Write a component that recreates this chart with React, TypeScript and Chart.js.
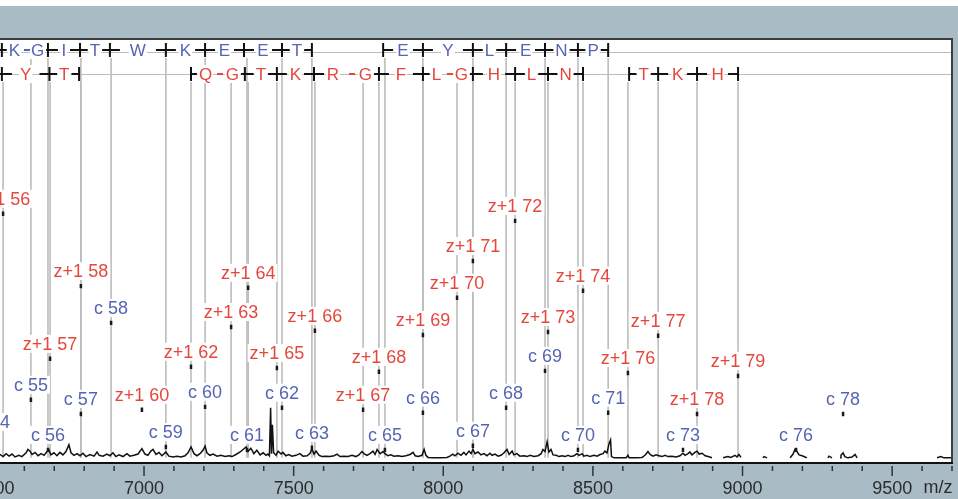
import React, { useEffect, useRef } from "react";
import { Chart, registerables } from "chart.js";

Chart.register(...registerables);

// ---------- axis ----------
const majorTicks = [6500, 7000, 7500, 8000, 8500, 9000, 9500];
const xRange = [6500, 9700];
const yRange = [-1, 100];
const axisTitle = "m/z";

// ---------- spectrum trace ----------
const spectrumMz = [
  6500, 6519, 6529, 6539, 6549, 6559, 6569, 6582, 6592, 6606,
  6612, 6619, 6626, 6636, 6646, 6656, 6666, 6676, 6682, 6689,
  6699, 6709, 6719, 6729, 6739, 6749, 6756, 6766, 6776, 6786,
  6796, 6806, 6819, 6833, 6843, 6850, 6863, 6876, 6886, 6896,
  6906, 6916, 6930, 6943, 6953, 6966, 6980, 6993, 7003, 7013,
  7023, 7030, 7040, 7050, 7060, 7073, 7083, 7097, 7110, 7124,
  7137, 7147, 7157, 7167, 7177, 7187, 7197, 7204, 7210, 7220,
  7231, 7244, 7257, 7271, 7284, 7294, 7307, 7321, 7331, 7341,
  7347, 7357, 7367, 7377, 7388, 7398, 7408, 7414, 7419, 7423,
  7426, 7429, 7433, 7441, 7448, 7458, 7464, 7474, 7484, 7494,
  7508, 7521, 7531, 7545, 7555, 7561, 7568, 7575, 7585, 7595,
  7608, 7621, 7635, 7645, 7655, 7668, 7682, 7695, 7708, 7718,
  7728, 7735, 7745, 7755, 7765, 7772, 7779, 7789, 7799, 7805,
  7815, 7825, 7835, 7849, 7862, 7875, 7889, 7899, 7906, 7916,
  7929, 7936, 7942, 7949, 7966, 7989, 8012, 8022, 8032, 8039,
  8049, 8059, 8069, 8076, 8086, 8093, 8099, 8106, 8116, 8126,
  8136, 8146, 8156, 8163, 8173, 8183, 8193, 8203, 8213, 8220,
  8230, 8236, 8246, 8256, 8270, 8280, 8290, 8303, 8317, 8327,
  8333, 8340, 8347, 8353, 8360, 8367, 8377, 8387, 8397, 8407,
  8417, 8427, 8437, 8447, 8454, 8464, 8470, 8480, 8490, 8504,
  8514, 8524, 8534, 8540, 8547, 8554, 8559, 8562, 8571, 8591,
  8611, 8617, 8621, 8644, 8664, 8674, 8684, 8691, 8701, 8711,
  8721, 8731, 8741, 8751, 8764, 8778, 8791, 8801, 8808, 8818,
  8824, 8831, 8841, 8848, 8855, 8865, 8875, 8885, 8898, 8911,
  8935, 8951, 8961, 8975, 8981, 8988, 8995, 9030, 9068, 9072,
  9082, 9120, 9159, 9169, 9175, 9182, 9189, 9199, 9209, 9215,
  9250, 9285, 9289, 9299, 9312, 9326, 9329, 9336, 9342, 9352,
  9366, 9376, 9383, 9500, 9650, 9663, 9673, 9700,
];
const spectrumInt: (number | null)[] = [
  0.3, 0.8, 0.3, 1.0, 0.4, 0.9, 0.2, 0.6, 0.3, 1.2,
  2.0, 1.6, 0.8, 1.3, 0.5, 1.0, 0.6, 1.5, 1.9, 0.7,
  1.2, 0.5, 1.3, 0.7, 1.5, 3.1, 1.2, 0.6, 1.0, 0.5,
  1.1, 0.3, 0.8, 0.4, 1.4, 0.6, 0.4, 0.9, 0.5, 1.2,
  0.3, 0.7, 0.3, 1.0, 0.4, 0.6, 0.9, 2.2, 0.9, 0.6,
  1.6, 2.0, 0.8, 1.3, 0.5, 1.4, 0.4, 0.2, 0.4, 0.2,
  0.5, 1.2, 2.6, 1.0, 0.5, 1.0, 1.8, 2.8, 1.2, 0.6,
  0.9, 0.4, 0.6, 0.3, 0.5, 0.3, 0.8, 1.4, 2.0, 2.6,
  1.5, 2.3, 1.0, 1.8, 0.7, 1.2, 0.6, 0.9, 0.5, 12.0,
  1.0, 7.9, 1.2, 0.6, 1.6, 0.9, 1.3, 0.5, 0.8, 0.4,
  0.6, 1.0, 0.4, 0.5, 1.1, 2.2, 0.9, 1.6, 0.6, 0.3,
  0.4, 0.3, 0.5, 0.9, 0.3, 0.4, 0.3, 0.6, 0.3, 0.7,
  1.5, 1.0, 0.6, 1.0, 1.6, 0.8, 2.0, 1.0, 1.5, 1.0,
  0.5, 0.7, 0.4, 0.5, 0.3, 0.5, 0.8, 1.3, 0.5, 0.3,
  0.6, 2.0, 0.6, 0.1, 0.0, 0.0, 0.1, 0.4, 0.9, 0.5,
  1.1, 0.6, 1.3, 0.7, 1.6, 1.0, 2.0, 1.0, 1.4, 0.7,
  1.0, 0.5, 1.1, 0.6, 0.9, 0.4, 0.6, 1.2, 2.0, 0.8,
  1.6, 0.7, 1.0, 0.4, 0.5, 0.3, 0.6, 0.3, 0.5, 1.0,
  2.0, 1.5, 3.8, 1.4, 2.0, 0.7, 0.6, 0.3, 0.5, 0.3,
  0.6, 0.3, 0.5, 1.0, 0.6, 1.0, 0.4, 0.6, 0.3, 0.6,
  0.4, 0.8, 1.0, 1.6, 1.2, 3.4, 4.3, 0.3, 0.0, 0.0,
  0.0, 0.6, 0.0, 0.0, 0.1, 0.6, 1.5, 0.8, 0.4, 0.7,
  0.5, 0.3, 0.6, 0.3, 0.4, 0.2, 0.5, 1.1, 0.6, 1.0,
  1.4, 0.7, 1.3, 1.6, 0.9, 1.1, 0.5, 0.3, 0.0, null,
  0.0, 0.3, 0.1, 0.6, 0.2, 0.8, 0.1, null, 0.0, 0.3,
  0.0, null, 0.0, 0.9, 2.0, 1.5, 0.7, 0.5, 0.2, 0.0,
  null, 0.0, 0.4, 0.0, null, 0.0, 0.6, 1.2, 0.3, 0.0,
  0.2, 0.8, 0.0, null, 0.0, 0.3, 0.0, 0.0,
];

// ---------- c ions (blue) ----------
const cIonLabels = [
  "c 54", "c 55", "c 56", "c 57", "c 58", "c 59", "c 60", "c 61", "c 62", "c 63",
  "c 65", "c 66", "c 67", "c 68", "c 69", "c 70", "c 71", "c 73", "c 76", "c 78",
];
const cIonMz = [
  6495, 6622, 6679, 6789, 6890, 7073, 7204, 7344, 7461, 7561,
  7805, 7932, 8099, 8210, 8340, 8450, 8551, 8801, 9179, 9336,
];
const cIonHeight = [
  5.0, 13.9, 1.9, 10.5, 32.3, 2.6, 12.2, 1.9, 12.0, 2.4,
  1.9, 10.8, 2.9, 12.0, 20.8, 1.9, 10.8, 1.9, 1.9, 10.5,
];
const cIonMapped = [
  true, true, true, true, true, true, true, true, true, true,
  true, true, true, true, true, true, true, false, false, false,
];

// ---------- z+1 ions (red) ----------
const zIonLabels = [
  "z+1 56", "z+1 57", "z+1 58", "z+1 60", "z+1 62", "z+1 63", "z+1 64", "z+1 65",
  "z+1 66", "z+1 67", "z+1 68", "z+1 69", "z+1 70", "z+1 71", "z+1 72", "z+1 73",
  "z+1 74", "z+1 76", "z+1 77", "z+1 78", "z+1 79",
];
const zIonMz = [
  6529, 6686, 6789, 6993, 7157, 7291, 7348, 7444, 7571, 7732, 7785,
  7932, 8046, 8099, 8240, 8350, 8467, 8617, 8718, 8848, 8985,
];
const zIonHeight = [
  58.4, 23.7, 41.1, 11.5, 21.8, 31.3, 40.7, 21.5, 30.4, 11.5, 20.6,
  29.4, 38.3, 47.1, 56.7, 30.1, 40.0, 20.3, 29.2, 10.5, 19.6,
];
const zIonMapped = [
  true, true, true, false, true, true, true, true, true, true, true,
  true, true, true, true, true, true, true, true, true, true,
];

// ---------- sequence map rows ----------
// kinds: x = cleavage cross, s = segment start, e = segment end, d = no cleavage (dash)
const cSeq1Letters = ["K", "G", "I", "T", "W", "K", "E", "E", "T"];
const cSeq1Breaks = [6525, 6609, 6679, 6786, 6886, 7073, 7204, 7334, 7461, 7561];
const cSeq1Kinds = ["x", "d", "x", "x", "x", "x", "x", "x", "x", "e"];
const cSeq2Letters = ["E", "Y", "L", "E", "N", "P"];
const cSeq2Breaks = [7799, 7932, 8099, 8210, 8340, 8450, 8551];
const cSeq2Kinds = ["s", "x", "x", "x", "x", "x", "e"];

const zSeq1Letters = ["Y", "T"];
const zSeq1Breaks = [6525, 6684, 6783];
const zSeq1Kinds = ["x", "x", "e"];
const zSeq2Letters = ["Q", "G", "T", "K", "R", "G", "F", "L", "G", "H", "L", "N"];
const zSeq2Breaks = [7157, 7254, 7337, 7444, 7568, 7695, 7785, 7932, 8022, 8099, 8240, 8350, 8467];
const zSeq2Kinds = ["s", "d", "x", "x", "x", "d", "x", "x", "d", "x", "x", "x", "e"];
const zSeq3Letters = ["T", "K", "H"];
const zSeq3Breaks = [8621, 8718, 8848, 8985];
const zSeq3Kinds = ["s", "x", "x", "e"];

// ---------- styling ----------
const BLUE = "#5565b3";
const RED = "#e5473d";
const BAND = "#a9bcc6";
const GREY = "#bcbcbc";
const FONT = '"Liberation Sans", Arial, sans-serif';
const OFFSET = 60; // canvas is shifted to the left of the page
const CANVAS_W = 1028;
const ROW_C_Y = 50;
const ROW_Z_Y = 74;

function seg(ctx: CanvasRenderingContext2D, x1: number, y1: number, x2: number, y2: number) {
  ctx.beginPath();
  ctx.moveTo(x1, y1);
  ctx.lineTo(x2, y2);
  ctx.stroke();
}

function drawRow(
  ctx: CanvasRenderingContext2D,
  xs: any,
  breaks: number[],
  kinds: string[],
  letters: string[],
  y: number,
  color: string
) {
  const px = breaks.map((b) => xs.getPixelForValue(b));
  ctx.font = `17px ${FONT}`;
  ctx.textAlign = "center";
  ctx.textBaseline = "middle";
  const lx = letters.map((_, i) => (px[i] + px[i + 1]) / 2);
  const lw = letters.map((l) => ctx.measureText(l).width);
  ctx.fillStyle = "#fff";
  letters.forEach((_, i) => ctx.fillRect(lx[i] - lw[i] / 2 - 1, y - 9, lw[i] + 2, 18));
  px.forEach((p, i) => {
    const k = kinds[i];
    const leftRoom = i > 0 ? p - (lx[i - 1] + lw[i - 1] / 2) - 2 : 9;
    const rightRoom = i < letters.length ? lx[i] - lw[i] / 2 - p - 2 : 9;
    ctx.lineWidth = 2;
    if (k === "d") {
      ctx.strokeStyle = color;
      seg(ctx, p - 3, y, p + 3, y);
      return;
    }
    ctx.strokeStyle = "#111";
    seg(ctx, p, y - 7, p, y + 7);
    if (k !== "s") seg(ctx, p - Math.max(0, Math.min(10, leftRoom)), y, p, y);
    if (k !== "e") seg(ctx, p, y, p + Math.max(0, Math.min(10, rightRoom)), y);
  });
  ctx.fillStyle = color;
  letters.forEach((l, i) => ctx.fillText(l, lx[i], y + 1));
}

function drawLabels(
  ctx: CanvasRenderingContext2D,
  xs: any,
  ys: any,
  names: string[],
  mzs: number[],
  hs: number[],
  color: string
) {
  ctx.font = `18px ${FONT}`;
  ctx.textAlign = "center";
  ctx.textBaseline = "middle";
  names.forEach((n, i) => {
    const x = xs.getPixelForValue(mzs[i]);
    const y = ys.getPixelForValue(hs[i]) - 15;
    const w = ctx.measureText(n).width;
    ctx.fillStyle = "#fff";
    ctx.fillRect(x - w / 2 - 2, y - 9, w + 4, 18);
    ctx.fillStyle = color;
    ctx.fillText(n, x, y + 1);
  });
}

function drawIonLines(
  ctx: CanvasRenderingContext2D,
  xs: any,
  ys: any,
  mzs: number[],
  mapped: boolean[],
  top: number
) {
  const base = ys.getPixelForValue(0);
  ctx.strokeStyle = GREY;
  ctx.lineWidth = 1.6;
  mzs.forEach((m, i) => {
    if (!mapped[i]) return;
    const x = xs.getPixelForValue(m);
    seg(ctx, x, top, x, base);
  });
}

const spectrumPlugin = {
  id: "spectrumDecor",
  beforeDraw(chart: any) {
    const { ctx, chartArea: a, width, height } = chart;
    ctx.save();
    ctx.fillStyle = "#fff";
    ctx.fillRect(0, 0, width, height);
    ctx.fillStyle = BAND;
    ctx.fillRect(0, 6, width, height - 6);
    ctx.fillStyle = "#fff";
    ctx.fillRect(0, a.top, a.right, a.bottom - a.top);
    ctx.strokeStyle = GREY;
    ctx.lineWidth = 1;
    seg(ctx, 0, ROW_C_Y + 2.5, a.right, ROW_C_Y + 2.5);
    seg(ctx, 0, ROW_Z_Y + 0.5, a.right, ROW_Z_Y + 0.5);
    ctx.restore();
  },
  beforeDatasetsDraw(chart: any) {
    const { ctx } = chart;
    const xs = chart.scales.x;
    const ys = chart.scales.y;
    ctx.save();
    drawIonLines(ctx, xs, ys, cIonMz, cIonMapped, ROW_C_Y + 8);
    drawIonLines(ctx, xs, ys, zIonMz, zIonMapped, ROW_Z_Y + 8);
    drawRow(ctx, xs, cSeq1Breaks, cSeq1Kinds, cSeq1Letters, ROW_C_Y, BLUE);
    drawRow(ctx, xs, cSeq2Breaks, cSeq2Kinds, cSeq2Letters, ROW_C_Y, BLUE);
    drawRow(ctx, xs, zSeq1Breaks, zSeq1Kinds, zSeq1Letters, ROW_Z_Y, RED);
    drawRow(ctx, xs, zSeq2Breaks, zSeq2Kinds, zSeq2Letters, ROW_Z_Y, RED);
    drawRow(ctx, xs, zSeq3Breaks, zSeq3Kinds, zSeq3Letters, ROW_Z_Y, RED);
    drawLabels(ctx, xs, ys, zIonLabels, zIonMz, zIonHeight, RED);
    drawLabels(ctx, xs, ys, cIonLabels, cIonMz, cIonHeight, BLUE);
    ctx.restore();
  },
  afterDraw(chart: any) {
    const { ctx, chartArea: a } = chart;
    const xs = chart.scales.x;
    ctx.save();
    ctx.strokeStyle = "#3d3d3d";
    ctx.lineWidth = 2;
    seg(ctx, 0, a.top - 1, a.right + 1, a.top - 1);
    seg(ctx, a.right, a.top - 1, a.right, a.bottom + 2);
    ctx.strokeStyle = "#111";
    seg(ctx, 0, a.bottom + 1, a.right + 1, a.bottom + 1);
    ctx.strokeStyle = "#333";
    ctx.lineWidth = 1.5;
    xs.ticks.forEach((t: any) => {
      const x = xs.getPixelForValue(t.value);
      const len = majorTicks.includes(t.value) ? 10 : 5;
      seg(ctx, x, a.bottom + 4, x, a.bottom + 4 + len);
    });
    ctx.fillStyle = "#2b2b2b";
    ctx.font = `18px ${FONT}`;
    ctx.textAlign = "center";
    ctx.textBaseline = "middle";
    ctx.fillText(axisTitle, a.right - 14, 488);
    ctx.restore();
  },
};

export default function App() {
  const ref = useRef<HTMLCanvasElement>(null);
  useEffect(() => {
    if (!ref.current) return;
    const chart = new Chart(ref.current, {
      type: "scatter",
      data: {
        datasets: [
          {
            label: "c ions",
            data: cIonMz.map((m, i) => ({ x: m, y: cIonHeight[i] })),
            pointStyle: "line",
            rotation: 90,
            pointRadius: 2.2,
            borderWidth: 2.5,
            borderColor: "#1a1a1a",
            backgroundColor: "#1a1a1a",
            order: 0,
          },
          {
            label: "z+1 ions",
            data: zIonMz.map((m, i) => ({ x: m, y: zIonHeight[i] })),
            pointStyle: "line",
            rotation: 90,
            pointRadius: 2.2,
            borderWidth: 2.5,
            borderColor: "#1a1a1a",
            backgroundColor: "#1a1a1a",
            order: 0,
          },
          {
            label: "spectrum",
            data: spectrumMz.map((m, i) => ({ x: m, y: spectrumInt[i] })) as any,
            showLine: true,
            spanGaps: false,
            pointRadius: 0,
            borderColor: "#111",
            borderWidth: 1.5,
            order: 1,
          },
        ],
      },
      options: {
        animation: false,
        responsive: false,
        maintainAspectRatio: false,
        events: [],
        layout: { padding: { left: OFFSET - 5.6, right: 16, top: 40, bottom: 0 } },
        plugins: { legend: { display: false }, tooltip: { enabled: false } },
        scales: {
          x: {
            type: "linear",
            min: xRange[0],
            max: xRange[1],
            grid: { display: false, drawTicks: false },
            border: { display: false },
            ticks: {
              stepSize: 100,
              autoSkip: false,
              maxRotation: 0,
              padding: 16,
              color: "#2b2b2b",
              font: { family: FONT, size: 18 },
              callback: (v: any) => (majorTicks.includes(Number(v)) ? String(v) : ""),
            },
            afterFit: (s: any) => {
              s.height = 37;
            },
          },
          y: { display: false, min: yRange[0], max: yRange[1] },
        },
      },
      plugins: [spectrumPlugin],
    } as any);
    return () => chart.destroy();
  }, []);
  return (
    <div
      style={{
        position: "fixed",
        left: 0,
        top: 0,
        width: 958,
        height: 499,
        overflow: "hidden",
        background: "#fff",
      }}
    >
      <canvas
        ref={ref}
        width={CANVAS_W}
        height={499}
        style={{ position: "absolute", left: -OFFSET, top: 0, width: CANVAS_W, height: 499 }}
      />
    </div>
  );
}
